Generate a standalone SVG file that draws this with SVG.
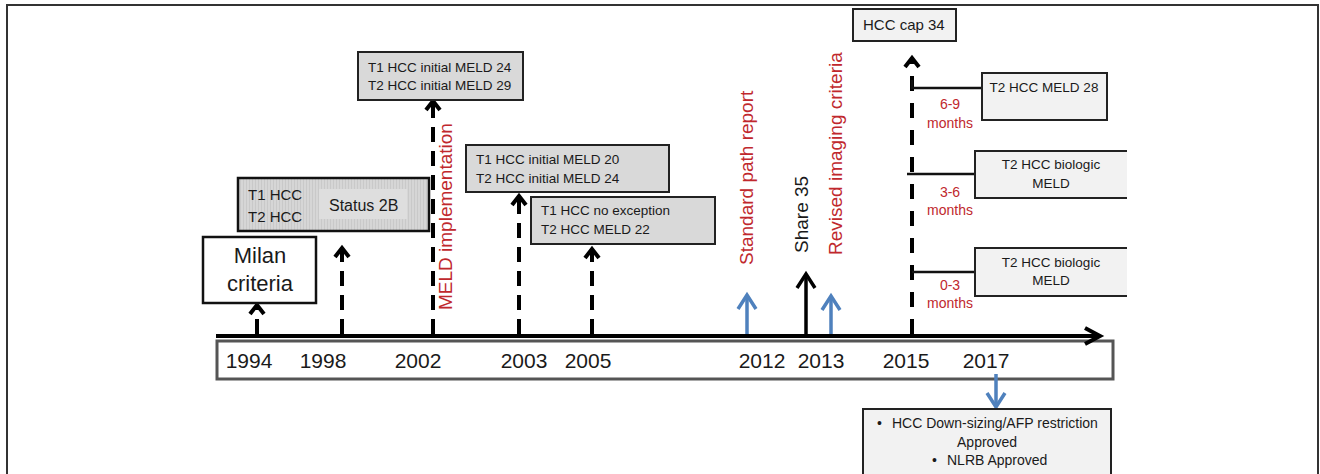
<svg xmlns="http://www.w3.org/2000/svg" width="1320" height="474" viewBox="0 0 1320 474">
<style>
text{font-family:"Liberation Sans",Arial,sans-serif;fill:#1a1a1a}
.red{fill:#c0282d}
.yr{font-size:21px;text-anchor:middle}
.bx{font-size:13.5px}
.mo{font-size:14px;text-anchor:middle}
.vt{font-size:19px}
.gbox{fill:#d9d9d9;stroke:#222;stroke-width:2}
.lbox{fill:#f2f2f2;stroke:#222;stroke-width:2}
.dash{fill:none;stroke:#000;stroke-width:4;stroke-dasharray:15 9}
.solid{fill:none;stroke:#000;stroke-width:3.5}
.blue{fill:none;stroke:#4f81bd;stroke-width:3.5}
.conn{fill:none;stroke:#111;stroke-width:2.5}
</style>
<defs>
<marker id="ah" markerUnits="userSpaceOnUse" orient="auto" refX="0" refY="0" markerWidth="20" markerHeight="20" style="overflow:visible">
<path d="M-9,-7 L0,0 L-9,7" fill="none" stroke="#000" stroke-width="4"/>
</marker>
<marker id="ahk" markerUnits="userSpaceOnUse" orient="auto" refX="0" refY="0" markerWidth="20" markerHeight="20" style="overflow:visible">
<path d="M-14,-9 L0,0 L-14,9" fill="none" stroke="#000" stroke-width="3.5"/>
</marker>
<marker id="ahb" markerUnits="userSpaceOnUse" orient="auto" refX="0" refY="0" markerWidth="20" markerHeight="20" style="overflow:visible">
<path d="M-14,-9 L0,0 L-14,9" fill="none" stroke="#4f81bd" stroke-width="3.5"/>
</marker>
<marker id="axh" markerUnits="userSpaceOnUse" orient="auto" refX="0" refY="0" markerWidth="20" markerHeight="20" style="overflow:visible">
<path d="M-15,-8 L0,0 L-15,8" fill="none" stroke="#000" stroke-width="4"/>
</marker>
<pattern id="hatch" patternUnits="userSpaceOnUse" width="3" height="3">
<rect width="3" height="3" fill="#d6d6d6"/>
<rect width="1" height="3" fill="#c9c9c9"/>
</pattern>
</defs>

<rect id="frame" x="7" y="5" width="1311" height="490" fill="#fff" stroke="#333" stroke-width="2"/>

<g id="timeline">
<rect x="217" y="341" width="896" height="38" fill="#fff" stroke="#555" stroke-width="3"/>
<path d="M216,336 H1100" fill="none" stroke="#000" stroke-width="4" marker-end="url(#axh)"/>
<text class="yr" x="249" y="368">1994</text>
<text class="yr" x="323" y="368">1998</text>
<text class="yr" x="418" y="368">2002</text>
<text class="yr" x="524" y="368">2003</text>
<text class="yr" x="588" y="368">2005</text>
<text class="yr" x="762" y="368">2012</text>
<text class="yr" x="821" y="368">2013</text>
<text class="yr" x="906" y="368">2015</text>
<text class="yr" x="986" y="368">2017</text>
</g>

<g id="connectors">
<path class="dash" d="M257,334 V305" marker-end="url(#ah)"/>
<path class="dash" d="M342,334 V248" marker-end="url(#ah)"/>
<path class="dash" d="M433,334 V101" marker-end="url(#ah)"/>
<path class="dash" d="M519,334 V196" marker-end="url(#ah)"/>
<path class="dash" d="M592,334 V249" marker-end="url(#ah)"/>
<path class="dash" d="M912,334 V58" style="stroke-dasharray:15 12" marker-end="url(#ah)"/>
<path class="blue" d="M747,334 V295" marker-end="url(#ahb)"/>
<path class="solid" d="M806,334 V274" marker-end="url(#ahk)"/>
<path class="blue" d="M831,334 V296" marker-end="url(#ahb)"/>
<path class="blue" d="M996,374 V407" marker-end="url(#ahb)"/>
<path class="conn" d="M912,80 V88 H982"/>
<path class="conn" d="M907,174 H975"/>
<path class="conn" d="M912,272 H975"/>
</g>

<g id="milan">
<rect x="203" y="237" width="113" height="66" fill="#fff" stroke="#111" stroke-width="2.5"/>
<text x="260" y="263" font-size="22" text-anchor="middle">Milan</text>
<text x="260" y="291" font-size="22" text-anchor="middle">criteria</text>
</g>

<g id="status2b">
<rect x="238" y="178" width="191" height="53" fill="url(#hatch)" stroke="#111" stroke-width="2.5"/>
<rect x="319" y="189" width="88" height="30" fill="#dedede"/>
<text x="248" y="200" font-size="15">T1 HCC</text>
<text x="248" y="222" font-size="15">T2 HCC</text>
<text x="329" y="211" font-size="16">Status 2B</text>
</g>

<g id="meld2002">
<rect class="gbox" x="358" y="52" width="165" height="48"/>
<text class="bx" x="368" y="72">T1 HCC initial MELD 24</text>
<text class="bx" x="368" y="90">T2 HCC initial MELD 29</text>
</g>

<g id="meld2003">
<rect class="gbox" x="466" y="145" width="203" height="47"/>
<text class="bx" x="476" y="164">T1 HCC initial MELD 20</text>
<text class="bx" x="476" y="183">T2 HCC initial MELD 24</text>
</g>

<g id="meld2005">
<rect class="gbox" x="531" y="197" width="184" height="47"/>
<text class="bx" x="541" y="215">T1 HCC no exception</text>
<text class="bx" x="541" y="234">T2 HCC MELD 22</text>
</g>

<g id="meld-implementation">
<text class="vt red" transform="translate(452,310) rotate(-90)">MELD implementation</text>
</g>
<g id="path-report">
<text class="vt red" transform="translate(753,265) rotate(-90)">Standard path report</text>
</g>
<g id="share35">
<text class="vt" transform="translate(808,253) rotate(-90)">Share 35</text>
</g>
<g id="imaging">
<text class="vt red" transform="translate(842,255) rotate(-90)">Revised imaging criteria</text>
</g>

<g id="cap34">
<rect class="lbox" x="853" y="9" width="103" height="32"/>
<text x="863" y="30" font-size="15">HCC cap 34</text>
</g>

<g id="meld28">
<rect class="lbox" x="982" y="73" width="125" height="47"/>
<text class="bx" x="1044" y="92" text-anchor="middle">T2 HCC MELD 28</text>
</g>
<g id="m69">
<text class="mo red" x="950" y="109">6-9</text>
<text class="mo red" x="950" y="128">months</text>
</g>

<g id="biologic36">
<rect x="975" y="151" width="152" height="47" fill="#f2f2f2"/>
<path d="M1127,151 H975 V198 H1127" fill="none" stroke="#222" stroke-width="2"/>
<text class="bx" x="1051" y="169" text-anchor="middle">T2 HCC biologic</text>
<text class="bx" x="1051" y="188" text-anchor="middle">MELD</text>
</g>
<g id="m36">
<text class="mo red" x="950" y="197">3-6</text>
<text class="mo red" x="950" y="215">months</text>
</g>

<g id="biologic03">
<rect x="975" y="248" width="152" height="48" fill="#f2f2f2"/>
<path d="M1127,248 H975 V296 H1127" fill="none" stroke="#222" stroke-width="2"/>
<text class="bx" x="1051" y="267" text-anchor="middle">T2 HCC biologic</text>
<text class="bx" x="1051" y="285" text-anchor="middle">MELD</text>
</g>
<g id="m03">
<text class="mo red" x="950" y="290">0-3</text>
<text class="mo red" x="950" y="308">months</text>
</g>

<g id="approved2017">
<rect class="lbox" x="863" y="409" width="248" height="80"/>
<text x="877" y="428" font-size="14">•</text>
<text x="892" y="428" font-size="14">HCC Down-sizing/AFP restriction</text>
<text x="987" y="447" font-size="14" text-anchor="middle">Approved</text>
<text x="932" y="465" font-size="14">•</text>
<text x="947" y="465" font-size="14">NLRB Approved</text>
</g>
</svg>
